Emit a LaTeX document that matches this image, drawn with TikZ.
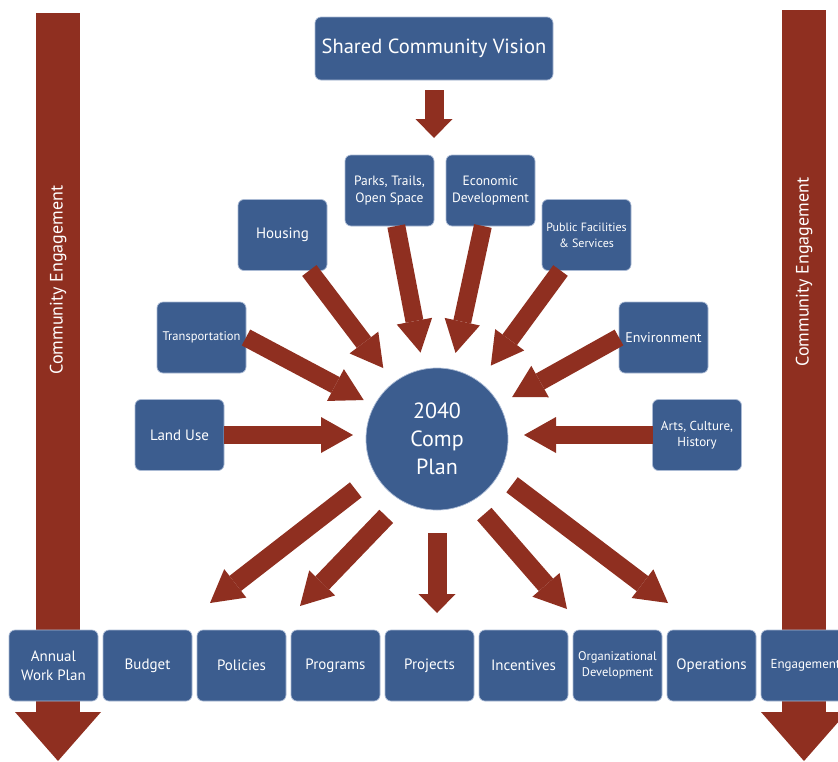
\documentclass[tikz,border=0pt]{standalone}
\usepackage{xcolor}
\usepackage{fontspec}
\setmainfont{PT Sans}
\usepackage{tikz}
\usetikzlibrary{positioning,calc,arrows.meta}

\definecolor{planblue}{RGB}{60,93,143}
\definecolor{planred}{RGB}{143,47,32}
\definecolor{planedge}{RGB}{170,186,212}

\begin{document}
\begin{tikzpicture}[
    x=1pt, y=-1pt,
    node distance=5pt,
    box/.style={rectangle, rounded corners=6pt, draw=planedge, line width=0.7pt, fill=planblue, text=white, align=center, minimum width=89pt, minimum height=71pt, inner sep=1pt, outer sep=0pt, font=\fontsize{15}{19}\selectfont},
    smallbox/.style={box, font=\fontsize{12.5}{16.5}\selectfont},
    hub/.style={circle, draw=planedge, line width=0.7pt, fill=planblue, text=white, align=center, minimum size=142pt, inner sep=0pt, outer sep=0pt, font=\fontsize{22}{28}\selectfont},
    flow/.style={draw=planred, line width=18pt, -{Triangle[width=36pt,length=32pt,line width=0pt]}},
    flowshort/.style={flow, line width=19pt, -{Triangle[width=37pt,length=19pt,line width=0pt]}},
    bar/.style={draw=planred, line width=44pt, -{Triangle[width=86pt,length=49pt,line width=0pt]}},
    engage/.style={rotate=90, text=white, font=\fontsize{18}{21}\selectfont}
]
\useasboundingbox (0,0) rectangle (838,761);

% Engagement bars on both sides
\coordinate (lbar-top) at (58,13);
\coordinate (lbar-end) at (58,761);
\coordinate (rbar-top) at (804,10);
\coordinate (rbar-end) at (804,761);
\draw[bar] (lbar-top) -- (lbar-end);
\draw[bar] (rbar-top) -- (rbar-end);
\node[engage] (leng) at (58,280) {Community Engagement};
\node[engage] (reng) at (804,272) {Community Engagement};

% Vision and plan
\node[box, minimum width=238pt, minimum height=63pt, font=\fontsize{20.5}{24}\selectfont] (vision) at (434,48.5) {Shared Community Vision};
\node[hub] (plan) at (437,439) {2040\\Comp\\Plan};

% Plan elements
\node[smallbox, font=\fontsize{13.5}{17}\selectfont] (parks) at (389.5,190.5) {Parks, Trails,\\Open Space};
\node[smallbox, font=\fontsize{13.5}{17}\selectfont] (econ) at (490.5,190.5) {Economic\\Development};
\node[box] (housing) at (282.5,235) {Housing};
\node[smallbox, font=\fontsize{12}{16}\selectfont] (public) at (586.5,235) {Public Facilities\\\& Services};
\node[smallbox] (trans) at (201.5,337.5) {Transportation};
\node[box, font=\fontsize{14}{17}\selectfont] (env) at (663.5,337.5) {Environment};
\node[box] (landuse) at (179.5,435) {Land Use};
\node[smallbox, font=\fontsize{13}{16.5}\selectfont] (arts) at (697,435) {Arts, Culture,\\History};

% Implementation tools
\node[box] (annual) at (53.5,665.5) {Annual\\Work Plan};
\node[box, right=of annual] (budget) {Budget};
\node[box, right=of budget] (policies) {Policies};
\node[box, right=of policies] (programs) {Programs};
\node[box, right=of programs] (projects) {Projects};
\node[box, right=of projects] (incent) {Incentives};
\node[smallbox, right=of incent] (org) {Organizational\\Development};
\node[box, right=of org] (ops) {Operations};
\node[box, right=of ops, font=\fontsize{13}{15}\selectfont] (engage) {Engagement};

% Arrow tips above the tools
\coordinate (pol-tip) at ($(policies.north west)+(13,-27)$);
\coordinate (prog-tip) at ($(programs.north west)+(9,-24)$);
\coordinate (inc-tip) at ($(incent.north east)+(-1,-21)$);
\coordinate (ops-tip) at ($(ops.north west)+(1,-27)$);

% Arrows
\draw[flowshort, shorten <=10pt, shorten >=17pt] (vision.south) -- (vision.south |- parks.north);
\draw[flow, shorten >=17pt] (parks) -- (plan);
\draw[flow, shorten >=17pt] (econ) -- (plan);
\draw[flow, shorten >=18pt] (housing) -- (plan);
\draw[flow, shorten >=20pt] (public) -- (plan);
\draw[flow, shorten >=12pt] (trans.east) -- (plan);
\draw[flow, shorten >=15pt] (env.west) -- (plan);
\draw[flow, shorten >=13pt] (landuse.east) -- (landuse.east -| plan.west);
\draw[flow, shorten >=16pt] (arts.west) -- (arts.west -| plan.east);
\draw[flow, line width=19pt, shorten <=25pt] (plan.210) -- (pol-tip);
\draw[flow, line width=19pt, shorten <=22pt] (plan.240) -- (prog-tip);
\draw[flowshort, shorten <=23pt, shorten >=17pt] (plan.south) -- (plan.south |- projects.north);
\draw[flow, line width=19pt, shorten <=18pt] (plan.300) -- (inc-tip);
\draw[flow, line width=19pt, shorten <=17pt] (plan.330) -- (ops-tip);

\end{tikzpicture}
\end{document}
